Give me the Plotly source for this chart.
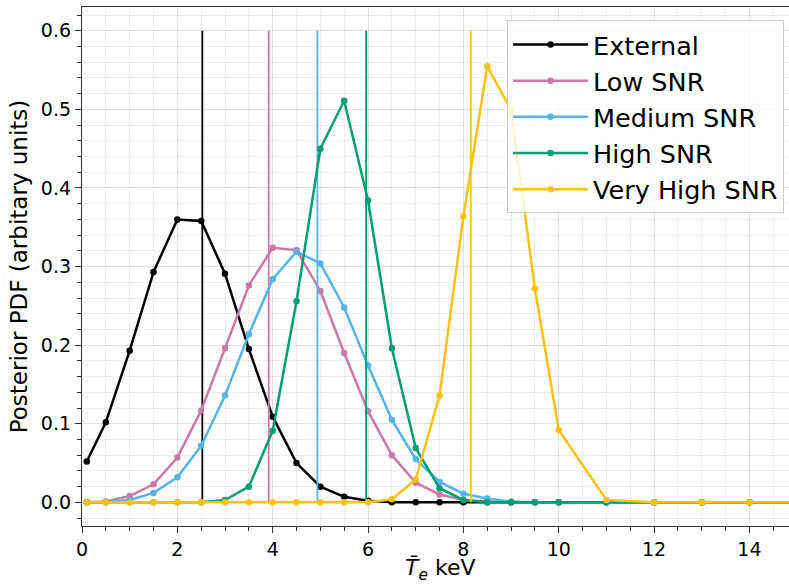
import plotly.graph_objects as go

x_vals = [0.1, 0.5, 1.0, 1.5, 2.0, 2.5, 3.0, 3.5, 4.0, 4.5, 5.0, 5.5, 6.0, 6.5, 7.0,
          7.5, 8.0, 8.5, 9.0, 9.5, 10.0, 11.0, 12.0, 13.0, 14.0, 15.0]

external = [0.052, 0.102, 0.193, 0.293, 0.360, 0.358, 0.291, 0.195, 0.109, 0.050, 0.020,
            0.007, 0.002, 0.0, 0.0, 0.0, 0.0, 0.0, 0.0, 0.0, 0.0, 0.0, 0.0, 0.0, 0.0, 0.0]
low_snr = [0.0, 0.001, 0.008, 0.023, 0.057, 0.117, 0.196, 0.276, 0.324, 0.321, 0.269,
           0.190, 0.116, 0.060, 0.025, 0.010, 0.003, 0.001, 0.0, 0.0, 0.0, 0.0, 0.0, 0.0, 0.0, 0.0]
medium_snr = [0.0, 0.0, 0.003, 0.012, 0.032, 0.072, 0.136, 0.214, 0.284, 0.319, 0.304,
              0.248, 0.174, 0.105, 0.055, 0.026, 0.011, 0.005, 0.001, 0.0, 0.0, 0.0, 0.0, 0.0, 0.0, 0.0]
high_snr = [0.0, 0.0, 0.0, 0.0, 0.0, 0.0, 0.003, 0.020, 0.091, 0.256, 0.450,
            0.511, 0.384, 0.196, 0.069, 0.018, 0.003, 0.0, 0.0, 0.0, 0.0, 0.0, 0.0, 0.0, 0.0, 0.0]
very_high_snr = [0.0, 0.0, 0.0, 0.0, 0.0, 0.0, 0.0, 0.0, 0.0, 0.0, 0.0,
                 0.0, 0.0, 0.004, 0.029, 0.136, 0.364, 0.555, 0.499, 0.272, 0.092, 0.003, 0.0, 0.0, 0.0, 0.0]

series_names = ["External", "Low SNR", "Medium SNR", "High SNR", "Very High SNR"]
series_values = [external, low_snr, medium_snr, high_snr, very_high_snr]
series_colors = ["#000000", "#CC79A7", "#56B4E9", "#009E73", "#FBC215"]
means = [2.524, 3.917, 4.938, 5.959, 8.155]
vline_top = 0.6
x_title = "<i>T\u0304</i><sub><i>e</i></sub> keV"
y_title = "Posterior PDF (arbitary units)"

fig = go.Figure()
for name, vals, col, m in zip(series_names, series_values, series_colors, means):
    fig.add_trace(go.Scatter(
        x=x_vals, y=vals, mode="lines+markers", name=name,
        line=dict(color=col, width=2.5),
        marker=dict(color=col, size=6.5),
    ))
    fig.add_trace(go.Scatter(
        x=[m, m], y=[0, vline_top], mode="lines", showlegend=False,
        line=dict(color=col, width=1.8), hoverinfo="skip",
    ))

axis_common = dict(
    showline=True, linecolor="#333333", linewidth=1.3,
    ticks="outside", ticklen=6, tickwidth=1.3, tickcolor="#333333",
    showgrid=True, gridcolor="rgba(0,0,0,0.12)", gridwidth=1,
    zeroline=False, automargin=False,
    tickfont=dict(family="DejaVu Sans", size=19, color="#000000"),
)

fig.update_xaxes(
    range=[0, 14.83], dtick=2, tick0=0, mirror=True,
    minor=dict(dtick=0.5, ticks="outside", ticklen=3.5, tickcolor="#333333",
               showgrid=True, gridcolor="rgba(0,0,0,0.07)"),
    **axis_common,
)
fig.update_yaxes(
    range=[-0.0301, 0.6303], dtick=0.1, tick0=0, tickformat=".1f", mirror=False,
    minor=dict(dtick=0.02, ticks="outside", ticklen=3.5, tickcolor="#333333",
               showgrid=True, gridcolor="rgba(0,0,0,0.07)"),
    title=dict(text=y_title,
               font=dict(family="DejaVu Sans", size=23, color="#000000"), standoff=6),
    **axis_common,
)

fig.add_annotation(
    text=x_title, xref="paper", yref="paper", x=0.507, y=-0.084,
    xanchor="center", yanchor="middle", showarrow=False,
    font=dict(family="DejaVu Sans", size=22, color="#000000"),
)

fig.update_layout(
    width=789, height=585,
    margin=dict(l=82, r=0, t=7, b=59),
    paper_bgcolor="white", plot_bgcolor="white",
    font=dict(family="DejaVu Sans", color="#000000"),
    legend=dict(
        x=0.993, y=0.974, xanchor="right", yanchor="top",
        bgcolor="rgba(255,255,255,0.8)", bordercolor="#cccccc", borderwidth=1,
        font=dict(family="DejaVu Sans", size=25.5, color="#000000"),
        itemwidth=75, tracegroupgap=0,
    ),
    showlegend=True,
)

fig.write_html("out.html")
